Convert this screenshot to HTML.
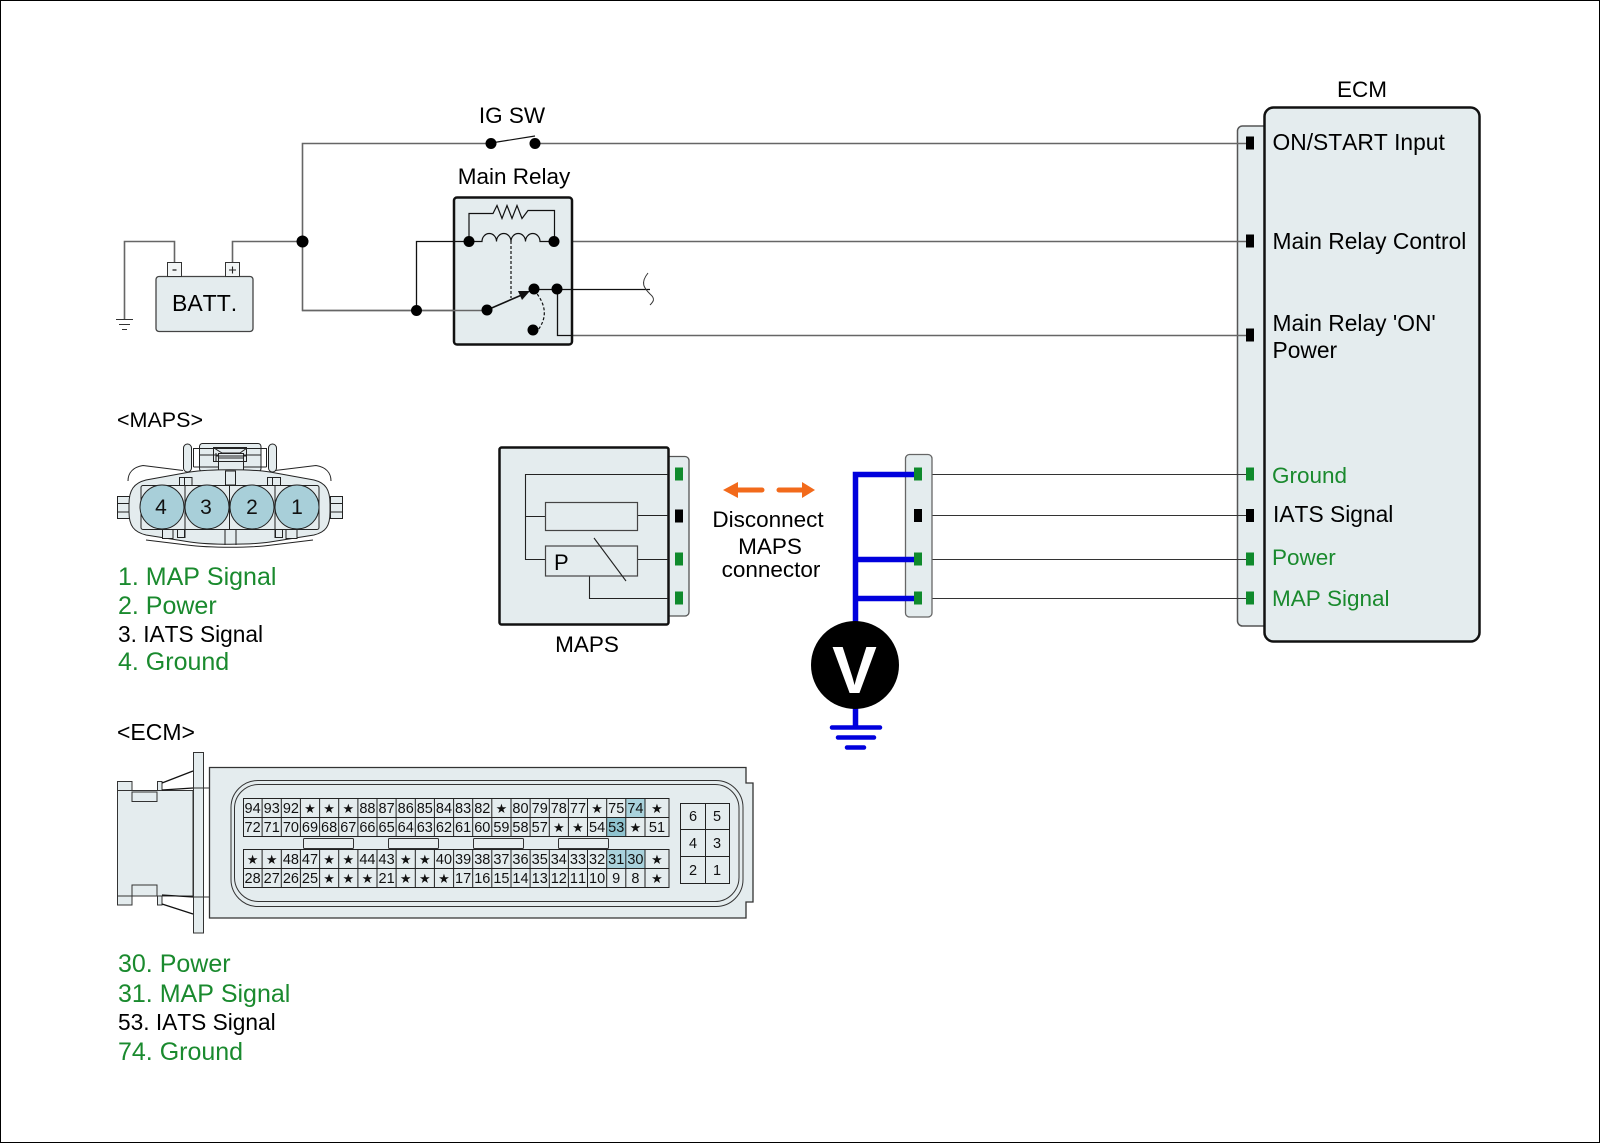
<!DOCTYPE html>
<html>
<head>
<meta charset="utf-8">
<style>
html,body{margin:0;padding:0;background:#fff}
svg{display:block;font-family:"Liberation Sans",Arial,sans-serif;font-kerning:none}
.star{font-family:"DejaVu Sans",sans-serif;font-size:13px}
</style>
</head>
<body>
<svg width="1600" height="1143" viewBox="0 0 1600 1143" xmlns="http://www.w3.org/2000/svg">
<rect x="0.5" y="0.5" width="1599" height="1142" fill="#fff" stroke="#000"/>

<!-- ECM box -->
<rect x="1237.5" y="126" width="40" height="500" rx="5" fill="#e4ecee" stroke="#555" stroke-width="1.5"/>
<rect x="1264.5" y="107.5" width="215" height="534" rx="9" fill="#e4ecee" stroke="#111" stroke-width="2.5"/>

<!-- wires -->
<g fill="none" stroke="#666" stroke-width="1.6">
<path d="M491 143.500H302.500V310.500H487"/>
<path d="M535 143.500H1246"/>
<path d="M554 241.500H1246"/>
<path d="M557 335.500H1246"/>
<path d="M302 241.500H232.500V263"/>
<path d="M174.500 263V241.500H124.500V319"/>
</g>
<g fill="none" stroke="#333" stroke-width="1.100">
<path d="M116 319.500h17M119 324.500h11M122 329.500h5"/>
<path d="M922 474.500H1246M922 515.500H1246M922 559.500H1246M922 598.500H1246"/>
</g>

<!-- battery -->
<rect x="156" y="276.500" width="97" height="55" rx="3" fill="#e4ecee" stroke="#444" stroke-width="1.300"/>
<rect x="167.500" y="262.500" width="14" height="14" fill="#f2f5f5" stroke="#333"/>
<rect x="225.500" y="262.500" width="14" height="14" fill="#f2f5f5" stroke="#333"/>
<path d="M172.500 270h4" stroke="#222" stroke-width="1.300"/>
<path d="M229 270h7M232.500 266.500v7" stroke="#222" stroke-width="1.100"/>
<text x="172" y="311" font-size="23">BATT.</text>

<!-- IG SW -->
<text x="512" y="123" font-size="22.500" text-anchor="middle">IG SW</text>
<path d="M491 143L535 136" stroke="#111" stroke-width="1.200"/>
<circle cx="491" cy="143.500" r="5.500"/><circle cx="535" cy="143.500" r="5.500"/>
<circle cx="302.500" cy="241.500" r="6"/>

<!-- Main relay -->
<text x="514" y="184" font-size="22.500" text-anchor="middle">Main Relay</text>
<rect x="454" y="197.500" width="118" height="147" rx="3" fill="#e4ecee" stroke="#111" stroke-width="2.500"/>
<path d="M302 310.500H487" stroke="#666" stroke-width="1.600" fill="none"/>
<path d="M416.500 310V241.500H469" stroke="#111" stroke-width="1.300" fill="none"/>
<path d="M469 241V213.500H493l4-8 5 13 5-13 5 13 5-13 5 13 6-8H554.500V241" stroke="#111" stroke-width="1.200" fill="none"/>
<path d="M469 241.500H482a7.250 8 0 0 1 14.500 0a7.250 8 0 0 1 14.500 0a7.250 8 0 0 1 14.500 0a7.250 8 0 0 1 14.500 0H554" stroke="#111" stroke-width="1.200" fill="none"/>
<path d="M511 241V298" stroke="#111" stroke-width="1.200" stroke-dasharray="3 2" fill="none"/>
<path d="M534 290C547 305 547 318 538 330" stroke="#111" stroke-width="1.200" stroke-dasharray="3 2" fill="none"/>
<path d="M487 310L524 294" stroke="#111" stroke-width="1.600"/>
<path d="M530 291L518 291L522 300Z" fill="#111"/>
<path d="M534 289.500H650" stroke="#111" stroke-width="1.200"/>
<path d="M557.500 289V335.500H572" stroke="#111" stroke-width="1.300" fill="none"/>
<path d="M648 273C640 283 644 288 650 294C656 299 653 302 650 305" stroke="#333" fill="none" stroke-width="1"/>
<g>
<circle cx="469" cy="241.500" r="5.500"/><circle cx="554" cy="241.500" r="5.500"/>
<circle cx="487" cy="310" r="5.500"/><circle cx="534" cy="289" r="5.500"/>
<circle cx="557" cy="289" r="5.500"/><circle cx="533" cy="330" r="5.500"/>
<circle cx="416.500" cy="310.500" r="5.500"/>
</g>

<!-- ECM labels -->
<text x="1362" y="97" font-size="22.500" text-anchor="middle">ECM</text>
<g font-size="22.800">
<text x="1272.500" y="150">ON/START Input</text>
<text x="1272.500" y="249">Main Relay Control</text>
<text x="1272.500" y="331">Main Relay 'ON'</text>
<text x="1272.500" y="358">Power</text>
<text x="1273" y="522">IATS Signal</text>
</g>
<g font-size="22.500" fill="#1a8a2e">
<text x="1272" y="483">Ground</text>
<text x="1272" y="565">Power</text>
<text x="1272" y="606">MAP Signal</text>
</g>
<rect x="1246" y="136.500" width="8" height="13"/>
<rect x="1246" y="234.500" width="8" height="13"/>
<rect x="1246" y="328.500" width="8" height="13"/>
<rect x="1246" y="509" width="8" height="13"/>
<g fill="#0f8a2c">
<rect x="1246" y="467.500" width="8" height="13"/>
<rect x="1246" y="552.500" width="8" height="13"/>
<rect x="1246" y="591.500" width="8" height="13"/>
</g>

<!-- MAPS box -->
<rect x="660" y="456.500" width="29" height="159.500" rx="4" fill="#e4ecee" stroke="#555" stroke-width="1.300"/>
<rect x="499.500" y="447.500" width="169" height="177" rx="2" fill="#e4ecee" stroke="#111" stroke-width="2.500"/>
<g fill="none" stroke="#222" stroke-width="1.100">
<path d="M668 474.500H525.500V559.500H545M525.500 516.500H545"/>
<path d="M638 515.500H668M638 559.500H668M589.500 576V598.500H668"/>
</g>
<rect x="545.500" y="502.500" width="92" height="28" fill="#e4ecee" stroke="#444" stroke-width="1.200"/>
<rect x="545.500" y="546" width="92" height="30" fill="none" stroke="#444" stroke-width="1.200"/>
<path d="M594 538L626 581" stroke="#222" stroke-width="1.100"/>
<text x="554" y="570" font-size="22">P</text>
<text x="587" y="652" font-size="22.500" text-anchor="middle">MAPS</text>
<rect x="675" y="509.500" width="8" height="13"/>
<g fill="#0f8a2c">
<rect x="675" y="467.500" width="8" height="13"/>
<rect x="675" y="552.500" width="8" height="13"/>
<rect x="675" y="591.500" width="8" height="13"/>
</g>

<!-- Disconnect -->
<path d="M723 490L738 482V487.500H762a2.500 2.500 0 0 1 0 5H738V498Z" fill="#f26a1b"/>
<path d="M815 490L802 482V487.500H779a2.500 2.500 0 0 0 0 5H802V498Z" fill="#f26a1b"/>
<g font-size="22.500" text-anchor="middle">
<text x="768" y="527">Disconnect</text>
<text x="770" y="554">MAPS</text>
<text x="771" y="577">connector</text>
</g>

<!-- Voltmeter side -->
<rect x="905.500" y="454.500" width="26.500" height="162.500" rx="4" fill="#e4ecee" stroke="#666" stroke-width="1.300"/>
<g fill="none" stroke="#0000dd" stroke-width="5.500">
<path d="M914 474.500H855.500V670"/>
<path d="M855.500 559.500H914M855.500 598.500H914"/>
<path d="M855.500 700V727"/>
</g>
<g stroke="#0000dd" stroke-width="4.500" stroke-linecap="round">
<path d="M832 727.500H880M838 737.500H874M847 747.500H864"/>
</g>
<rect x="914" y="467.500" width="8" height="13" fill="#0f8a2c"/>
<rect x="914" y="509" width="8" height="13"/>
<rect x="914" y="552.500" width="8" height="13" fill="#0f8a2c"/>
<rect x="914" y="591.500" width="8" height="13" fill="#0f8a2c"/>
<circle cx="855" cy="665" r="44"/>
<text x="854.500" y="693" font-size="67" font-weight="bold" fill="#fff" text-anchor="middle">V</text>

<!-- MAPS connector -->
<text x="117" y="427" font-size="21.500">&lt;MAPS&gt;</text>
<g fill="#e4ecee" stroke="#222" stroke-width="1">
<rect x="117.500" y="496.500" width="12" height="22"/><path d="M117.500 503.500H129.500M117.500 512H129.500" fill="none"/>
<rect x="330.500" y="496.500" width="12" height="22"/><path d="M330.500 503.500H342.500M330.500 512H342.500" fill="none"/>
<rect x="183.500" y="444" width="8" height="28" rx="4"/>
<rect x="268.500" y="444" width="8" height="28" rx="4"/>
<rect x="199.500" y="443.500" width="61.500" height="28" rx="3"/>
<path d="M193.500 467V448.500H266.500V467M193.500 467H266.500M199.500 455H261" fill="none"/>
<rect x="213.500" y="447.500" width="33" height="14" fill="none"/>
<rect x="218.500" y="453.500" width="25" height="18" fill="#e4ecee"/>
<path d="M214 448L222 453H240L247 448M218 458H243M218 461.500H243M216 456H246M216 461V453" fill="none"/>
<path d="M129 504C129 490 134 483 146 480L190 472C210 469 250 469 270 472L314 480C326 483 330 490 330 504V512C330 526 326 532 314 535L270 542C250 545 210 545 190 542L146 535C134 532 129 526 129 512Z"/>
<path d="M128 481C128 472 134 467 143 465.500M183 470.500L143 465.500M331 481C331 472 325 467 316 465.500M275 470.500L316 465.500" fill="none"/>
<path d="M146 540L187 545C210 548 250 548 272 545L313 540" fill="none"/>
<rect x="225.500" y="471" width="10" height="14"/>
<rect x="179.500" y="477.500" width="12.500" height="8"/><path d="M184.500 477.500V485" fill="none"/>
<rect x="267.500" y="477.500" width="13" height="8"/><path d="M272.500 477.500V485" fill="none"/>
<rect x="141" y="485.500" width="178" height="44" rx="2"/>
<rect x="162.500" y="529.500" width="10.500" height="9"/><rect x="177.500" y="529.500" width="7" height="8"/>
<rect x="275.500" y="529.500" width="7" height="8"/><rect x="286" y="529.500" width="11" height="9"/>
<path d="M185 485.500V538M275 485.500V538M225 529.500V545M236 529.500V545M229.500 485.500V529.500" fill="none"/>
</g>
<g fill="#a8cfd9" stroke="#222" stroke-width="1">
<circle cx="162" cy="507" r="22"/><circle cx="207" cy="507" r="22"/>
<circle cx="252" cy="507" r="22"/><circle cx="297" cy="507" r="22"/>
</g>
<g font-size="21" text-anchor="middle" fill="#111">
<text x="161" y="514">4</text><text x="206" y="514">3</text><text x="252" y="514">2</text><text x="297" y="514">1</text>
</g>
<g font-size="25" fill="#1a8a2e">
<text x="118" y="585">1. MAP Signal</text>
<text x="118" y="614">2. Power</text>
<text x="118" y="670">4. Ground</text>
</g>
<text x="118" y="642" font-size="22.700">3. IATS Signal</text>

<!-- ECM connector -->
<text x="117" y="740" font-size="23">&lt;ECM&gt;</text>
<g fill="#e4ecee" stroke="#333" stroke-width="1">
<path d="M117.500 781.500H132V790.500H157.500V781.500H162V790.500H193V896H162V905H157.500V896H132V905H117.500Z"/>
<rect x="132" y="792" width="25" height="9.500" fill="#e4ecee"/>
<rect x="132" y="885" width="25" height="11"/>
<path d="M117.500 790.500H132M117.500 896H132M157.500 790.500H162M157.500 896H162" fill="none"/>
<path d="M162 783L193 771M162 790L193 788M162 904L193 914M162 895L193 897" fill="none" stroke="#111" stroke-width="1.300"/>
<rect x="193.500" y="752.500" width="10" height="180.500"/>
<path d="M193.500 788H203.500M193.500 897H203.500M203.500 788H209M203.500 897H209" fill="none"/>
<path d="M209.500 767.500H746V783H753V902H746V918H209.500Z" stroke-width="1.300"/>
<rect x="231" y="780.500" width="512" height="126" rx="27" fill="none" stroke="#333"/>
<rect x="234.500" y="784.500" width="504.500" height="117" rx="24" fill="none" stroke="#333"/>
</g>
<g fill="#e8eeef" stroke="#333" stroke-width="1">
<rect x="303.500" y="838.500" width="50" height="10" rx="1"/>
<rect x="388.500" y="838.500" width="50" height="10" rx="1"/>
<rect x="473.500" y="838.500" width="50" height="10" rx="1"/>
<rect x="558.500" y="838.500" width="50" height="10" rx="1"/>
</g>
<g fill="#a9d2dc">
<rect x="626" y="798" width="19" height="19"/>
<rect x="607" y="817" width="19" height="19" fill="#8fc3cf"/>
<rect x="607" y="849" width="19" height="19"/>
<rect x="626" y="849" width="19" height="19"/>
</g>
<g fill="none" stroke="#222" stroke-width="1">
<path d="M243.500 798.500H669V836.500H243.500ZM243.500 817.500H669M243.500 849.500H669V887.500H243.500ZM243.500 868.500H669"/>
<path d="M262.100 798.500V836.500M281.300 798.500V836.500M300.400 798.500V836.500M319.600 798.500V836.500M338.700 798.500V836.500M357.900 798.500V836.500M377 798.500V836.500M396.100 798.500V836.500M415.300 798.500V836.500M434.400 798.500V836.500M453.600 798.500V836.500M472.700 798.500V836.500M491.800 798.500V836.500M511 798.500V836.500M530.100 798.500V836.500M549.300 798.500V836.500M568.400 798.500V836.500M587.500 798.500V836.500M606.700 798.500V836.500M625.800 798.500V836.500M645 798.500V836.500"/>
<path d="M262.100 849.500V887.500M281.300 849.500V887.500M300.400 849.500V887.500M319.600 849.500V887.500M338.700 849.500V887.500M357.900 849.500V887.500M377 849.500V887.500M396.100 849.500V887.500M415.300 849.500V887.500M434.400 849.500V887.500M453.600 849.500V887.500M472.700 849.500V887.500M491.800 849.500V887.500M511 849.500V887.500M530.100 849.500V887.500M549.300 849.500V887.500M568.400 849.500V887.500M587.500 849.500V887.500M606.700 849.500V887.500M625.800 849.500V887.500M645 849.500V887.500"/>
<path d="M680.500 803.500H729.500V883.500H680.500ZM705.500 803.500V883.500M680.500 829.500H729.500M680.500 856.500H729.500"/>
</g>
<g font-size="14.500" text-anchor="middle" fill="#111">
<g transform="translate(0,813)">
<text x="252.600">94</text><text x="271.700">93</text><text x="290.900">92</text><text x="310" class="star">★</text><text x="329.100" class="star">★</text><text x="348.300" class="star">★</text><text x="367.400">88</text><text x="386.600">87</text><text x="405.700">86</text><text x="424.800">85</text><text x="444">84</text><text x="463.100">83</text><text x="482.300">82</text><text x="501.400" class="star">★</text><text x="520.500">80</text><text x="539.700">79</text><text x="558.800">78</text><text x="578">77</text><text x="597.100" class="star">★</text><text x="616.200">75</text><text x="635.400">74</text><text x="657" class="star">★</text>
</g>
<g transform="translate(0,832)">
<text x="252.600">72</text><text x="271.700">71</text><text x="290.900">70</text><text x="310">69</text><text x="329.100">68</text><text x="348.300">67</text><text x="367.400">66</text><text x="386.600">65</text><text x="405.700">64</text><text x="424.800">63</text><text x="444">62</text><text x="463.100">61</text><text x="482.300">60</text><text x="501.400">59</text><text x="520.500">58</text><text x="539.700">57</text><text x="558.800" class="star">★</text><text x="578" class="star">★</text><text x="597.100">54</text><text x="616.200">53</text><text x="635.400" class="star">★</text><text x="657">51</text>
</g>
<g transform="translate(0,864)">
<text x="252.600" class="star">★</text><text x="271.700" class="star">★</text><text x="290.900">48</text><text x="310">47</text><text x="329.100" class="star">★</text><text x="348.300" class="star">★</text><text x="367.400">44</text><text x="386.600">43</text><text x="405.700" class="star">★</text><text x="424.800" class="star">★</text><text x="444">40</text><text x="463.100">39</text><text x="482.300">38</text><text x="501.400">37</text><text x="520.500">36</text><text x="539.700">35</text><text x="558.800">34</text><text x="578">33</text><text x="597.100">32</text><text x="616.200">31</text><text x="635.400">30</text><text x="657" class="star">★</text>
</g>
<g transform="translate(0,883)">
<text x="252.600">28</text><text x="271.700">27</text><text x="290.900">26</text><text x="310">25</text><text x="329.100" class="star">★</text><text x="348.300" class="star">★</text><text x="367.400" class="star">★</text><text x="386.600">21</text><text x="405.700" class="star">★</text><text x="424.800" class="star">★</text><text x="444" class="star">★</text><text x="463.100">17</text><text x="482.300">16</text><text x="501.400">15</text><text x="520.500">14</text><text x="539.700">13</text><text x="558.800">12</text><text x="578">11</text><text x="597.100">10</text><text x="616.200">9</text><text x="635.400">8</text><text x="657" class="star">★</text>
</g>
<text x="693" y="821">6</text><text x="717" y="821">5</text>
<text x="693" y="848">4</text><text x="717" y="848">3</text>
<text x="693" y="875">2</text><text x="717" y="875">1</text>
</g>

<g font-size="25" fill="#1a8a2e">
<text x="118" y="972">30. Power</text>
<text x="118" y="1002">31. MAP Signal</text>
<text x="118" y="1060">74. Ground</text>
</g>
<text x="118" y="1030" font-size="22.700">53. IATS Signal</text>
</svg>
</body>
</html>
